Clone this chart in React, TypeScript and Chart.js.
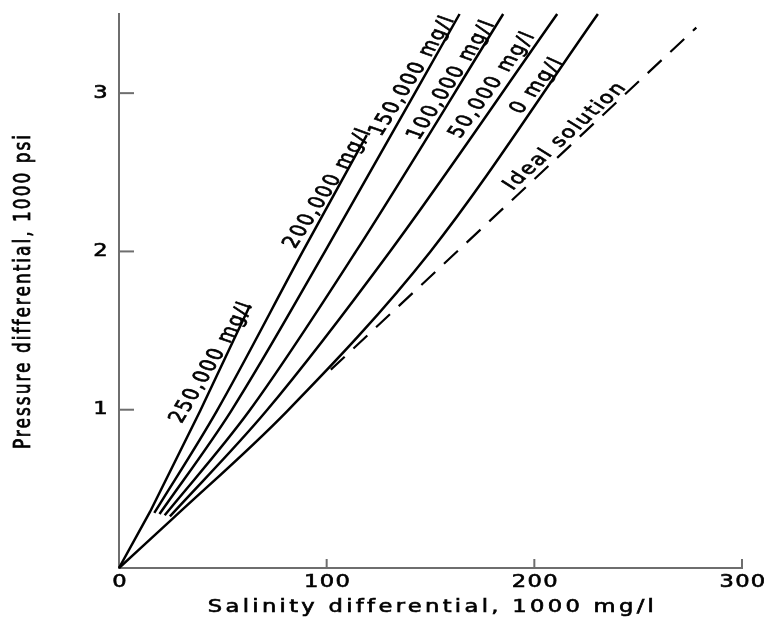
import React, { useEffect, useRef } from 'react';
import { Chart, registerables } from 'chart.js';

Chart.register(...registerables);

// ---- data (salinity differential in 1000 mg/l, pressure differential in 1000 psi) ----
const xTickValues = [0, 100, 200, 300];
const yTickValues = [1, 2, 3];

const curve250kX = [0, 14.9, 39.0, 63.1];
const curve250kY = [0, 0.354, 0.99, 1.66];
const curve200kX = [17.0, 47.0, 88.5, 119.3];
const curve200kY = [0.348, 0.99, 2.0, 2.735];
const curve150kX = [19.5, 53.9, 99.2, 164.0];
const curve150kY = [0.341, 0.99, 2.0, 3.5];
const curve100kX = [22.0, 62.6, 114.1, 185.0];
const curve100kY = [0.333, 0.99, 2.0, 3.5];
const curve50kX = [24.5, 70.8, 130.5, 211.0];
const curve50kY = [0.326, 0.99, 2.0, 3.5];
const curve0X = [0, 26.5, 80.9, 150.0, 230.6];
const curve0Y = [0, 0.32, 0.99, 2.0, 3.5];
const idealX = [102, 278];
const idealY = [1.253, 3.414];

const labelTexts = ['250,000 mg/l', '200,000 mg/l', '150,000 mg/l', '100,000 mg/l', '50,000 mg/l', '0 mg/l', 'Ideal solution'];
const labelX = [44.8, 100.7, 141.5, 160.3, 180.0, 201.5, 215.0];
const labelY = [1.30, 2.40, 3.11, 3.085, 3.054, 3.048, 2.729];
const labelAngle = [59, 57, 58, 57, 54, 51, 42];

const xTitle = 'Salinity differential, 1000 mg/l';
const yTitle = 'Pressure differential, 1000 psi';

const STRETCH = 1.33;
const AXIS_COLOR = '#6e6e6e';
const FONT = '"DejaVu Sans", sans-serif';

const zip = (xs: number[], ys: number[]) => xs.map((x, i) => ({ x, y: ys[i] }));

function drawText(ctx: CanvasRenderingContext2D, text: string, px: number, py: number, angleRad: number) {
  ctx.save();
  ctx.translate(px, py);
  ctx.scale(STRETCH, 1);
  ctx.rotate(-angleRad);
  ctx.fillText(text, 0, 0);
  ctx.strokeText(text, 0, 0);
  ctx.restore();
}

const overlayPlugin = {
  id: 'overlay',
  afterDraw(chart: any) {
    const { ctx, scales } = chart;
    const xs = scales.x;
    const ys = scales.y;
    ctx.save();
    // inward tick marks
    ctx.strokeStyle = AXIS_COLOR;
    ctx.lineWidth = 2;
    yTickValues.forEach((v) => {
      const py = ys.getPixelForValue(v);
      ctx.beginPath();
      ctx.moveTo(xs.left, py);
      ctx.lineTo(xs.left + 15, py);
      ctx.stroke();
    });
    xTickValues.filter((v) => v > 0).forEach((v) => {
      const px = xs.getPixelForValue(v);
      ctx.beginPath();
      ctx.moveTo(px, ys.bottom);
      ctx.lineTo(px, ys.bottom - 9);
      ctx.stroke();
    });

    ctx.fillStyle = '#000';
    ctx.strokeStyle = '#000';
    ctx.lineWidth = 0.6;
    ctx.font = `17px ${FONT}`;

    // tick labels
    ctx.letterSpacing = '1px';
    ctx.textBaseline = 'top';
    ctx.textAlign = 'center';
    xTickValues.forEach((v) => {
      drawText(ctx, String(v), xs.getPixelForValue(v) + 1, ys.bottom + 6, 0);
    });
    ctx.textBaseline = 'middle';
    ctx.textAlign = 'right';
    yTickValues.forEach((v) => {
      drawText(ctx, String(v), xs.left - 10, ys.getPixelForValue(v), 0);
    });

    // curve labels
    ctx.textAlign = 'center';
    ctx.textBaseline = 'middle';
    ctx.letterSpacing = '1.5px';
    labelTexts.forEach((t, i) => {
      const px = xs.getPixelForValue(labelX[i]);
      const py = ys.getPixelForValue(labelY[i]);
      const a = Math.atan(Math.tan((labelAngle[i] * Math.PI) / 180) * STRETCH);
      drawText(ctx, t, px, py, a);
    });

    // axis titles
    ctx.letterSpacing = '2.5px';
    drawText(ctx, xTitle, (xs.left + xs.right) / 2 + 2, ys.bottom + 40, 0);
    ctx.letterSpacing = '2px';
    drawText(ctx, yTitle, 24, (ys.top + ys.bottom) / 2, Math.PI / 2);

    ctx.restore();
  },
};

export default function App() {
  const canvasRef = useRef<HTMLCanvasElement | null>(null);

  useEffect(() => {
    if (!canvasRef.current) return;
    const solid = (xs: number[], ys: number[], label: string, smooth: boolean) => ({
      label,
      data: zip(xs, ys),
      borderColor: '#000',
      borderWidth: 2.5,
      pointRadius: 0,
      fill: false,
      clip: false as any,
      tension: smooth ? 0.4 : 0,
      cubicInterpolationMode: smooth ? ('monotone' as const) : ('default' as const),
    });
    const chart = new Chart(canvasRef.current, {
      type: 'line',
      data: {
        datasets: [
          solid(curve250kX, curve250kY, '250,000 mg/l', false),
          solid(curve200kX, curve200kY, '200,000 mg/l', true),
          solid(curve150kX, curve150kY, '150,000 mg/l', true),
          solid(curve100kX, curve100kY, '100,000 mg/l', true),
          solid(curve50kX, curve50kY, '50,000 mg/l', true),
          solid(curve0X, curve0Y, '0 mg/l', true),
          {
            label: 'Ideal solution',
            data: zip(idealX, idealY),
            borderColor: '#000',
            borderWidth: 2.2,
            borderDash: [19, 12],
            pointRadius: 0,
            fill: false,
            clip: false as any,
            tension: 0,
          },
        ],
      },
      options: {
        animation: false,
        responsive: true,
        maintainAspectRatio: false,
        layout: { padding: { top: 14, right: 36, left: 0, bottom: 0 } },
        plugins: { legend: { display: false }, tooltip: { enabled: false } },
        scales: {
          x: {
            type: 'linear',
            min: 0,
            max: 300,
            grid: { display: false, drawTicks: false },
            border: { display: true, color: AXIS_COLOR, width: 2 },
            ticks: { stepSize: 100, display: false },
            afterFit: (s: any) => {
              s.height = 62;
            },
          },
          y: {
            type: 'linear',
            min: 0,
            max: 3.5,
            grid: { display: false, drawTicks: false },
            border: { display: true, color: AXIS_COLOR, width: 2 },
            ticks: { stepSize: 1, display: false },
            afterFit: (s: any) => {
              s.width = 119;
            },
          },
        },
      },
      plugins: [overlayPlugin],
    });
    return () => chart.destroy();
  }, []);

  return (
    <div style={{ position: 'fixed', left: 0, top: 0, width: 778, height: 630, background: '#fff' }}>
      <canvas ref={canvasRef} />
    </div>
  );
}
